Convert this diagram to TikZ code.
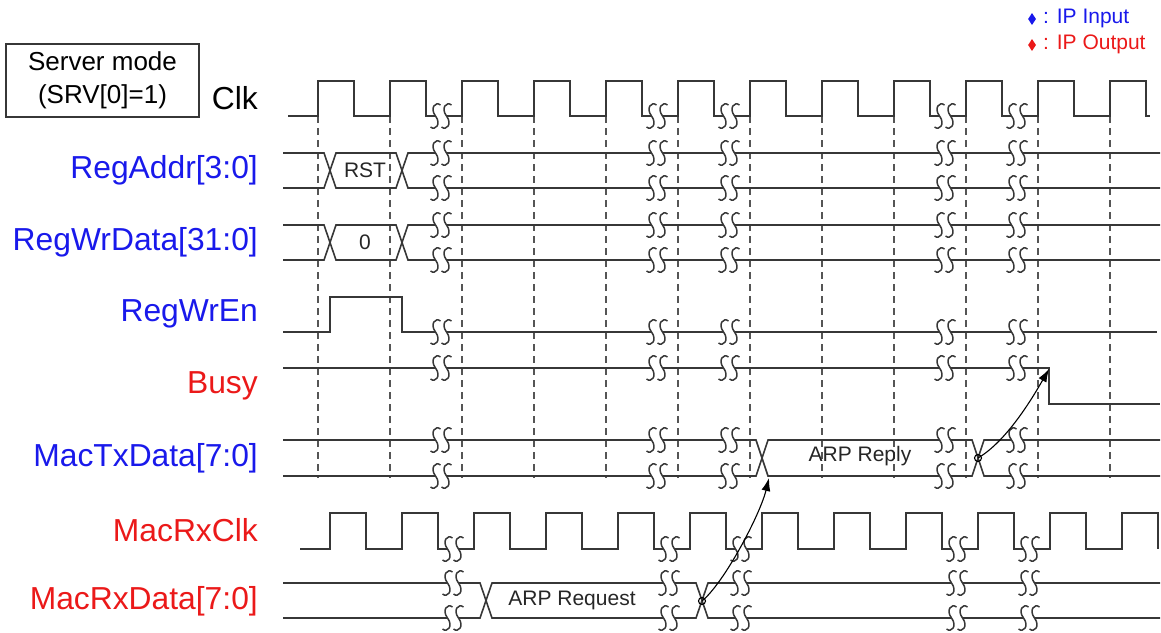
\documentclass[tikz,border=0pt]{standalone}
\usepackage{fontspec}
\setmainfont{Liberation Sans}
\usetikzlibrary{arrows.meta,shapes.geometric}
\definecolor{wavec}{RGB}{55,55,55}
\definecolor{ipin}{RGB}{25,25,235}
\definecolor{ipout}{RGB}{235,25,25}
\tikzset{
  wave/.style={draw=wavec, line width=1.6pt, line join=miter},
  wavesm/.style={draw=wavec, line width=1.5pt},
  gridline/.style={draw=wavec!85, line width=1.3pt, dash pattern=on 7pt off 5pt},
  sig/.style={anchor=east, inner sep=0pt, font=\fontsize{31.8}{37}\selectfont},
  bustext/.style={inner sep=0pt, font=\fontsize{21}{25}\selectfont, text=black!85},
  legtext/.style={anchor=west, inner sep=0pt, font=\fontsize{21}{25}\selectfont},
  legmark/.style={diamond, inner sep=0pt, minimum width=8pt, minimum height=12pt},
  arr/.style={draw=black, line width=1.1pt, -{Latex[length=13pt,width=9pt]}},
  brk/.pic={
    \fill[white] (-5.5,-3.5) rectangle (5.5,3.5);
    \foreach \s in {-5.5,5.5}{
      \draw[wavesm, shift={(\s,0)}] (5,-11) .. controls (0,-15) and (-6,-8) .. (0,0)
            .. controls (6,8) and (0,15) .. (-5,11);
    }
  }
}
\begin{document}
\begin{tikzpicture}[x=1pt,y=-1pt]
\useasboundingbox (0,0) rectangle (1161,632);

% mode box and legend
\node[draw=wavec, line width=1.3pt, minimum width=193pt, minimum height=73pt, align=center,
      inner sep=0pt, font=\fontsize{26}{33}\selectfont] (srv) at (102.5,80.5) {Server mode\\(SRV[0]=1)};
\node[legmark, fill=ipin] (d1) at (1032,19) {};
\node[legtext, text=ipin] (leg1) at (1043,18) {: IP Input};
\node[legmark, fill=ipout] (d2) at (1032,45) {};
\node[legtext, text=ipout] (leg2) at (1043,44) {: IP Output};

% signal names
\node[sig] (lclk) at (258,98) {Clk};
\node[sig, text=ipin] (laddr) at (258,170) {RegAddr[3:0]};
\node[sig, text=ipin] (lwdata) at (258,242) {RegWrData[31:0]};
\node[sig, text=ipin] (lwen) at (258,314) {RegWrEn};
\node[sig, text=ipout] (lbusy) at (258,386) {Busy};
\node[sig, text=ipin] (ltx) at (258,458) {MacTxData[7:0]};
\node[sig, text=ipout] (lrxclk) at (258,530) {MacRxClk};
\node[sig, text=ipout] (lrx) at (258,601) {MacRxData[7:0]};

% dashed clock-edge lines
\foreach \x in {318,390,...,1110} \draw[gridline] (\x,116) -- (\x,478);

% Clk
\draw[wave] (288,116) \foreach \x in {318,390,...,1110}{ -- (\x,116) -- (\x,81) -- ({\x+36},81) -- ({\x+36},116)} -- (1150,116);

% RegAddr
\draw[wave] (283,153) -- (324,153) -- (336,188) -- (396,188) -- (408,153) -- (1160,153);
\draw[wave] (283,188) -- (324,188) -- (336,153) -- (396,153) -- (408,188) -- (1160,188);
% RegWrData
\draw[wave] (283,225) -- (324,225) -- (336,260) -- (396,260) -- (408,225) -- (1160,225);
\draw[wave] (283,260) -- (324,260) -- (336,225) -- (396,225) -- (408,260) -- (1160,260);
% RegWrEn
\draw[wave] (283,332) -- (330,332) -- (330,297) -- (402,297) -- (402,332) -- (1157,332);
% Busy
\draw[wave] (283,368) -- (1049,368) -- (1049,404) -- (1160,404);
% MacTxData
\draw[wave] (283,440) -- (756,440) -- (768,476) -- (972,476) -- (984,440) -- (1160,440);
\draw[wave] (283,476) -- (756,476) -- (768,440) -- (972,440) -- (984,476) -- (1160,476);
% MacRxClk
\draw[wave] (300,549) \foreach \x in {330,402,...,1122}{ -- (\x,549) -- (\x,513) -- ({\x+36},513) -- ({\x+36},549)};
% MacRxData
\draw[wave] (283,583) -- (480,583) -- (492,618) -- (696,618) -- (708,583) -- (1160,583);
\draw[wave] (283,618) -- (480,618) -- (492,583) -- (696,583) -- (708,618) -- (1160,618);

% break marks
\foreach \x in {441,657,729,945,1017}
  \foreach \y in {116,153,188,225,260,332,368,440,476}
    \pic at (\x,\y) {brk};
\foreach \x in {453,669,741,957,1029}
  \foreach \y in {549,583,618}
    \pic at (\x,\y) {brk};

% bus values
\node[bustext] (tRST) at (365,170) {RST};
\node[bustext] (tZero) at (365,242) {0};
\node[bustext] (tReply) at (860,456) {ARP Reply};
\node[bustext] (tReq) at (572,600) {ARP Request};

% causality arrows
\coordinate (rxq) at (702,601);
\coordinate (txs) at (769,478);
\coordinate (txr) at (978,458);
\coordinate (busyf) at (1049,369);
\draw[black, line width=1.1pt] (rxq) circle (3.5pt);
\draw[black, line width=1.1pt] (txr) circle (3.5pt);
\draw[arr] (rxq) .. controls (724,583) and (760,515) .. (txs);
\draw[arr] (txr) .. controls (1007,441) and (1033,397) .. (busyf);
\end{tikzpicture}
\end{document}
